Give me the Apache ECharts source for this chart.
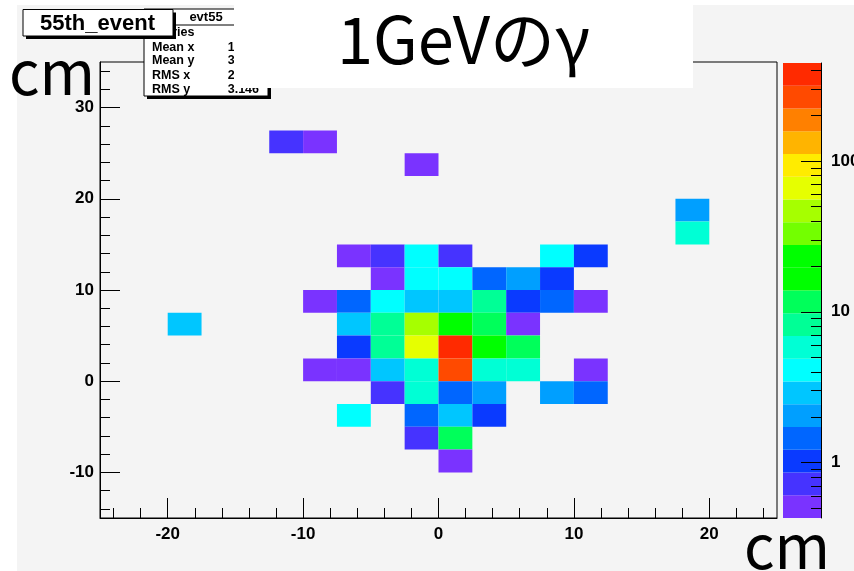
<!DOCTYPE html>
<html>
<head>
<meta charset="utf-8">
<script src="https://cdn.jsdelivr.net/npm/echarts@6/dist/echarts.min.js"></script>
<style>
  html, body { margin: 0; padding: 0; background: #ffffff; }
  #chart { width: 854px; height: 571px; }
</style>
</head>
<body>
<div id="chart"></div>
<script>
// Event 55: energy deposit per 2.5 cm x 2.5 cm cell (lower-left corner of each cell)
const cellX = [
  -7.5, -5, -2.5, 0, 7.5, 10,
  -5, -2.5, 0, 2.5, 5, 7.5,
  -10, -7.5, -5, -2.5, 0, 2.5, 5, 7.5, 10,
  -20, -7.5, -5, -2.5, 0, 2.5, 5,
  -7.5, -5, -2.5, 0, 2.5, 5,
  -10, -7.5, -5, -2.5, 0, 2.5, 5, 10,
  -5, -2.5, 0, 2.5, 7.5, 10,
  -7.5, -2.5, 0, 2.5,
  -2.5, 0,
  0,
  -12.5, -10, -2.5, 17.5, 17.5
];
const cellY = [
  12.5, 12.5, 12.5, 12.5, 12.5, 12.5,
  10, 10, 10, 10, 10, 10,
  7.5, 7.5, 7.5, 7.5, 7.5, 7.5, 7.5, 7.5, 7.5,
  5, 5, 5, 5, 5, 5, 5,
  2.5, 2.5, 2.5, 2.5, 2.5, 2.5,
  0, 0, 0, 0, 0, 0, 0, 0,
  -2.5, -2.5, -2.5, -2.5, -2.5, -2.5,
  -5, -5, -5, -5,
  -7.5, -7.5,
  -10,
  25, 25, 22.5, 17.5, 15
];
const cellE = [
  0.55, 0.72, 4.1, 0.70, 3.9, 1.02,
  0.52, 4.3, 4.0, 1.45, 2.1, 0.98,
  0.50, 1.40, 4.4, 2.9, 3.1, 8.0, 1.05, 1.50, 0.54,
  2.8, 2.9, 8.4, 46, 21, 12.0, 0.56,
  1.08, 7.8, 64, 440, 17, 11.2,
  0.53, 0.57, 2.7, 5.6, 255, 5.9, 5.5, 0.51,
  0.75, 6.1, 1.52, 2.2, 2.0, 1.38,
  4.0, 1.48, 3.0, 1.10,
  0.74, 10.8,
  0.55,
  0.71, 0.53, 0.56, 2.0, 5.3
];

// axis ticks and labels
const xMajor = [-20, -10, 0, 10, 20];
const xMinor = [-24, -22, -18, -16, -14, -12, -8, -6, -4, -2, 2, 4, 6, 8, 12, 14, 16, 18, 22, 24];
const yMajor = [-10, 0, 10, 20, 30];
const yMinor = [-14, -12, -8, -6, -4, -2, 2, 4, 6, 8, 12, 14, 16, 18, 22, 24, 26, 28, 32, 34];
const zMajor = [1, 10, 100];
const zMinor = [0.5, 0.6, 0.7, 0.8, 0.9, 2, 3, 4, 5, 6, 7, 8, 9, 20, 30, 40, 50, 60, 70, 80, 90, 200, 300, 400];

// 20-step colour palette, lowest to highest
const palette = [
  '#7a33ff', '#4633ff', '#0a3aff', '#0066ff', '#009fff',
  '#00c6ff', '#00ffff', '#00ffd5', '#00ff96', '#00ff5a',
  '#00ff00', '#00ff00', '#73ff00', '#a6ff00', '#e6ff00',
  '#ffec00', '#ffb400', '#ff8000', '#ff4a00', '#ff2a00'
];

const Z_MIN = 0.43;
const Z_MAX = 445;
const BIN = 2.5;

// log-spaced contour edges for the colour scale
const lMin = Math.log10(Z_MIN), lMax = Math.log10(Z_MAX);
const step = (lMax - lMin) / palette.length;
const edges = palette.map((_, i) => Math.pow(10, lMin + i * step)).concat([Z_MAX]);
const pieces = palette.map((c, i) => (
  i === palette.length - 1
    ? { gte: edges[i], lte: edges[i + 1], color: c }
    : { gte: edges[i], lt: edges[i + 1], color: c }
));
const bandData = palette.map((_, i) => [edges[i], edges[i + 1], Math.sqrt(edges[i] * edges[i + 1])]);

const AXIS_FONT = { color: '#000', fontFamily: 'Liberation Sans', fontWeight: 'bold', fontSize: 17 };
const BLACK = { color: '#000', width: 1 };
const STAT_FONT = 'bold 12.5px "Liberation Sans"';
const JP_FONT = '"Noto Sans CJK JP", "Noto Sans", sans-serif';

const chart = echarts.init(document.getElementById('chart'), null, { renderer: 'canvas' });

chart.setOption({
  animation: false,
  backgroundColor: '#ffffff',
  grid: [
    // main plot frame
    { left: 100, right: 77, top: 62, bottom: 53, show: true, borderColor: '#000', borderWidth: 1, backgroundColor: 'transparent' },
    // colour bar
    { left: 783, width: 38, top: 63, height: 455 },
    // colour bar scale: its left edge is the right side of the bar
    { left: 821, width: 20, top: 63, height: 455 }
  ],
  xAxis: [
    {
      gridIndex: 0, type: 'value', min: -25, max: 25, position: 'bottom',
      axisLine: { onZero: false, lineStyle: BLACK },
      axisTick: { inside: true, length: 20, customValues: xMajor, lineStyle: BLACK },
      axisLabel: Object.assign({ customValues: xMajor, margin: 8 }, AXIS_FONT),
      splitLine: { show: false }
    },
    {
      gridIndex: 0, type: 'value', min: -25, max: 25, position: 'bottom',
      axisLine: { show: false, onZero: false },
      axisTick: { inside: true, length: 10, customValues: xMinor, lineStyle: BLACK },
      axisLabel: { show: false },
      splitLine: { show: false }
    },
    { gridIndex: 1, type: 'value', min: 0, max: 1, show: false },
    { gridIndex: 2, type: 'value', min: 0, max: 1, show: false }
  ],
  yAxis: [
    {
      gridIndex: 0, type: 'value', min: -15, max: 35, position: 'left',
      axisLine: { onZero: false, lineStyle: BLACK },
      axisTick: { inside: true, length: 20, customValues: yMajor, lineStyle: BLACK },
      axisLabel: Object.assign({ customValues: yMajor, margin: 6 }, AXIS_FONT),
      splitLine: { show: false }
    },
    {
      gridIndex: 0, type: 'value', min: -15, max: 35, position: 'left',
      axisLine: { show: false, onZero: false },
      axisTick: { inside: true, length: 10, customValues: yMinor, lineStyle: BLACK },
      axisLabel: { show: false },
      splitLine: { show: false }
    },
    { gridIndex: 1, type: 'log', logBase: 10, min: Z_MIN, max: Z_MAX, show: false },
    {
      gridIndex: 2, type: 'log', logBase: 10, min: Z_MIN, max: Z_MAX, position: 'left', z: 10,
      axisLine: { onZero: false, lineStyle: BLACK },
      axisTick: { inside: false, length: 20, customValues: zMajor, lineStyle: BLACK },
      axisLabel: Object.assign({ inside: true, customValues: zMajor, margin: 10, padding: [8, 0, 0, 0] }, AXIS_FONT),
      splitLine: { show: false }
    },
    {
      gridIndex: 2, type: 'log', logBase: 10, min: Z_MIN, max: Z_MAX, position: 'left', z: 10,
      axisLine: { show: false, onZero: false },
      axisTick: { inside: false, length: 10, customValues: zMinor, lineStyle: BLACK },
      axisLabel: { show: false },
      splitLine: { show: false }
    }
  ],
  visualMap: {
    type: 'piecewise', show: false, dimension: 2, seriesIndex: [0, 1], pieces: pieces
  },
  series: [
    {
      // energy cells
      type: 'custom', xAxisIndex: 0, yAxisIndex: 0, z: -1,
      data: cellX.map((x, i) => [x, cellY[i], cellE[i]]),
      encode: { x: 0, y: 1 },
      renderItem: function (params, api) {
        const x = api.value(0), y = api.value(1);
        const p0 = api.coord([x, y + BIN]);
        const p1 = api.coord([x + BIN, y]);
        return {
          type: 'rect',
          shape: { x: p0[0], y: p0[1], width: p1[0] - p0[0], height: p1[1] - p0[1] },
          style: { fill: api.visual('color') }
        };
      }
    },
    {
      // colour scale bar
      type: 'custom', xAxisIndex: 2, yAxisIndex: 2, z: -1,
      data: bandData,
      encode: { y: [0, 1] },
      renderItem: function (params, api) {
        const p0 = api.coord([0, api.value(1)]);
        const p1 = api.coord([1, api.value(0)]);
        return {
          type: 'rect',
          shape: { x: p0[0], y: p0[1], width: p1[0] - p0[0], height: p1[1] - p0[1] },
          style: { fill: api.visual('color') }
        };
      }
    }
  ],
  graphic: [
    // pad background
    { type: 'rect', z: -100, silent: true, shape: { x: 17, y: 5, width: 860, height: 580 }, style: { fill: '#f4f4f4' } },

    // statistics box
    { type: 'rect', z: 100, shape: { x: 147, y: 12, width: 124, height: 87 }, style: { fill: '#000' } },
    { type: 'rect', z: 101, shape: { x: 144, y: 9, width: 124, height: 87 }, style: { fill: '#ffffff', stroke: '#000', lineWidth: 1 } },
    { type: 'line', z: 102, shape: { x1: 144, y1: 25, x2: 268, y2: 25 }, style: { stroke: '#000', lineWidth: 1 } },
    { type: 'text', z: 102, x: 206, y: 17.5, style: { text: 'evt55', font: 'bold 13px "Liberation Sans"', fill: '#000', textAlign: 'center', textVerticalAlign: 'middle' } },
    { type: 'text', z: 102, x: 152, y: 33, style: { text: 'Entries', font: STAT_FONT, fill: '#000', textVerticalAlign: 'middle' } },
    { type: 'text', z: 102, x: 152, y: 47.5, style: { text: 'Mean x', font: STAT_FONT, fill: '#000', textVerticalAlign: 'middle' } },
    { type: 'text', z: 102, x: 152, y: 61, style: { text: 'Mean y', font: STAT_FONT, fill: '#000', textVerticalAlign: 'middle' } },
    { type: 'text', z: 102, x: 152, y: 75.5, style: { text: 'RMS x', font: STAT_FONT, fill: '#000', textVerticalAlign: 'middle' } },
    { type: 'text', z: 102, x: 152, y: 89.5, style: { text: 'RMS y', font: STAT_FONT, fill: '#000', textVerticalAlign: 'middle' } },
    { type: 'text', z: 102, x: 259, y: 33, style: { text: '73', font: STAT_FONT, fill: '#000', textAlign: 'right', textVerticalAlign: 'middle' } },
    { type: 'text', z: 102, x: 259, y: 47.5, style: { text: '1.134', font: STAT_FONT, fill: '#000', textAlign: 'right', textVerticalAlign: 'middle' } },
    { type: 'text', z: 102, x: 259, y: 61, style: { text: '3.682', font: STAT_FONT, fill: '#000', textAlign: 'right', textVerticalAlign: 'middle' } },
    { type: 'text', z: 102, x: 259, y: 75.5, style: { text: '2.957', font: STAT_FONT, fill: '#000', textAlign: 'right', textVerticalAlign: 'middle' } },
    { type: 'text', z: 102, x: 259, y: 89.5, style: { text: '3.146', font: STAT_FONT, fill: '#000', textAlign: 'right', textVerticalAlign: 'middle' } },

    // event label box
    { type: 'rect', z: 110, shape: { x: 26, y: 12.5, width: 150, height: 26.5 }, style: { fill: '#000' } },
    { type: 'rect', z: 111, shape: { x: 23, y: 9.5, width: 150, height: 26.5 }, style: { fill: '#ffffff', stroke: '#000', lineWidth: 1 } },
    { type: 'text', z: 112, x: 97.5, y: 23.5, style: { text: '55th_event', font: 'bold 22px "Liberation Sans"', fill: '#000', textAlign: 'center', textVerticalAlign: 'middle' } },

    // title
    { type: 'rect', z: 120, shape: { x: 234, y: 0, width: 459, height: 88 }, style: { fill: '#ffffff' } },
    { type: 'text', z: 121, x: 337, y: 39, style: { text: '1GeVのγ', font: '65px ' + JP_FONT, fill: '#000', textVerticalAlign: 'middle' } },

    // axis units
    { type: 'text', z: 121, x: 9, y: 72, style: { text: 'cm', font: '60px ' + JP_FONT, fill: '#000', textVerticalAlign: 'middle' } },
    { type: 'text', z: 121, x: 744, y: 546, style: { text: 'cm', font: '60px ' + JP_FONT, fill: '#000', textVerticalAlign: 'middle' } }
  ]
});
</script>
</body>
</html>
